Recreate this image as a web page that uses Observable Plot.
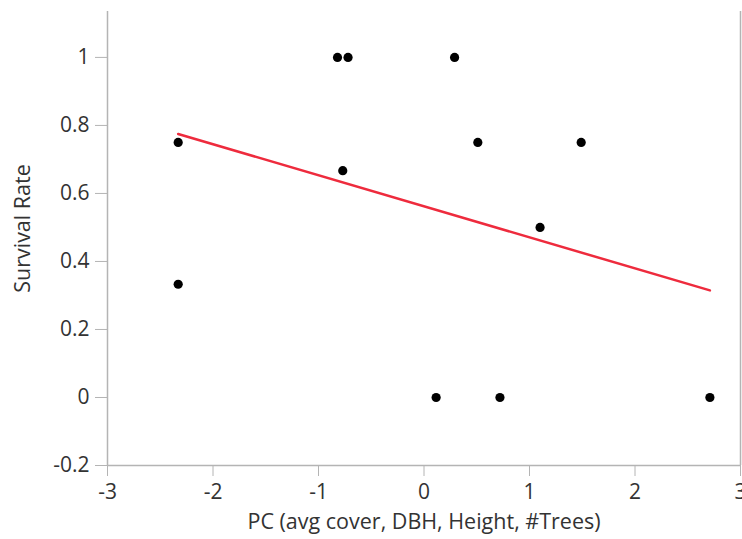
<!DOCTYPE html>
<html>
<head>
<meta charset="utf-8">
<script src="https://cdn.jsdelivr.net/npm/d3@7"></script>
<script src="https://cdn.jsdelivr.net/npm/@observablehq/plot@0.6"></script>
<style>
  body { margin: 0; background: #fff; }
  #chart { width: 742px; height: 539px; }
</style>
</head>
<body>
<div id="chart"></div>
<script>
const pcScore = [-2.33, -2.33, -0.82, -0.72, 0.29, 0.51, 1.49, -0.77, 1.10, 0.115, 0.72, 2.71];
const survivalRate = [0.75, 0.333, 1, 1, 1, 0.75, 0.75, 0.667, 0.5, 0, 0, 0];
const xTicks = [-3, -2, -1, 0, 1, 2, 3];
const yTicks = [-0.2, 0, 0.2, 0.4, 0.6, 0.8, 1];
const xLabel = "PC (avg cover, DBH, Height, #Trees)";
const yLabel = "Survival Rate";

const data = pcScore.map((x, i) => ({x, y: survivalRate[i]}));
const fmt = d => String(+d.toFixed(1)).replace("\u2212", "-");

const axisColor = "#b4b4b4";
const textColor = "#333";

const chart = Plot.plot({
  width: 742,
  height: 539,
  marginLeft: 107,
  marginRight: 2,
  marginTop: 11,
  marginBottom: 74,
  style: {fontFamily: "'Open Sans', sans-serif", fontSize: "21px", color: textColor, background: "#fff"},
  x: {domain: [-3, 3]},
  y: {domain: [-0.2, 1.135]},
  marks: [
    Plot.axisX({ticks: xTicks, tickFormat: fmt, tickSize: 11, tickPadding: 8, stroke: axisColor, fill: textColor, fontSize: 21, label: null}),
    Plot.axisY({ticks: yTicks, tickFormat: fmt, tickSize: 12, tickPadding: 6, stroke: axisColor, fill: textColor, fontSize: 21, label: null}),
    Plot.ruleX([-3, 3], {stroke: axisColor, strokeWidth: 1.5}),
    Plot.ruleY([-0.2], {stroke: axisColor, strokeWidth: 1.5}),
    Plot.text([xLabel], {frameAnchor: "bottom", dy: 63, fontSize: 21.5, fill: textColor}),
    Plot.text([yLabel], {frameAnchor: "left", textAnchor: "middle", dx: -84, dy: -10, rotate: -90, fontSize: 21.5, fill: textColor}),
    Plot.linearRegressionY(data, {x: "x", y: "y", ci: 0, stroke: "#ee2b3d", strokeWidth: 2.5}),
    Plot.dot(data, {x: "x", y: "y", r: 4.6, fill: "black", stroke: null})
  ]
});
document.getElementById("chart").appendChild(chart);
</script>
</body>
</html>
